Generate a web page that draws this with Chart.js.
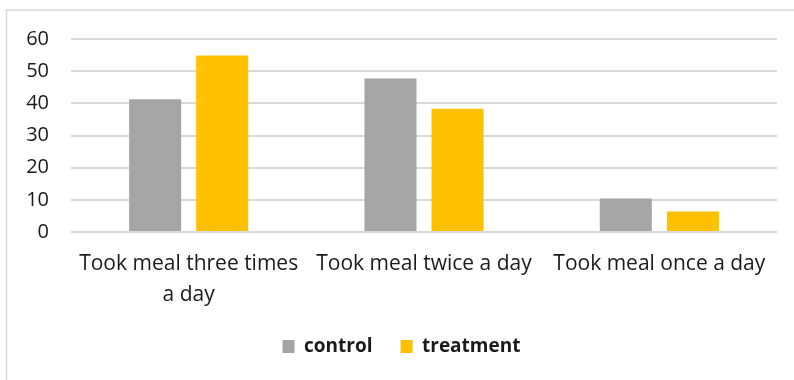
<!DOCTYPE html>
<html>
<head>
<meta charset="utf-8">
<script src="https://cdn.jsdelivr.net/npm/chart.js@4"></script>
<style>
  html, body { margin: 0; padding: 0; background: #fff; }
  #wrap { width: 794px; height: 380px; position: relative; }
</style>
</head>
<body>
<div id="wrap"><canvas id="mealChart"></canvas></div>
<script>
const categories = [['Took meal three times', 'a day'], 'Took meal twice a day', 'Took meal once a day'];
const controlValues = [41.3, 47.7, 10.4];
const treatmentValues = [54.9, 38.3, 6.4];
const yTicks = [0, 10, 20, 30, 40, 50, 60];

const FONT = "'Open Sans', 'Liberation Sans', sans-serif";

// light grey outline of the chart area, as in the office export
const frame = {
    id: 'frame',
    beforeDraw(chart) {
        const c = chart.ctx;
        c.save();
        c.strokeStyle = '#d9d9d9';
        c.lineWidth = 1.5;
        c.strokeRect(6.5, 10, 1000, 1000);
        c.restore();
    }
};

const ctx = document.getElementById('mealChart').getContext('2d');
new Chart(ctx, {
    type: 'bar',
    data: {
        labels: categories,
        datasets: [{
            label: 'control',
            data: controlValues,
            backgroundColor: '#a5a5a5',
            categoryPercentage: 0.57,
            barPercentage: 0.776
        }, {
            label: 'treatment',
            data: treatmentValues,
            backgroundColor: '#ffc000',
            categoryPercentage: 0.57,
            barPercentage: 0.776
        }]
    },
    options: {
        responsive: true,
        maintainAspectRatio: false,
        animation: false,
        layout: {
            padding: { left: 26, right: 17, top: 39, bottom: 14 }
        },
        scales: {
            x: {
                grid: { display: false, drawTicks: false },
                border: { display: false },
                ticks: {
                    color: '#1a1a1a',
                    font: { family: FONT, size: 21, lineHeight: 1.45 },
                    padding: 17,
                    maxRotation: 0,
                    autoSkip: false
                },
                afterFit(scale) { scale.height = 77; }
            },
            y: {
                min: 0,
                max: 60,
                afterBuildTicks(scale) {
                    scale.ticks = yTicks.map(v => ({ value: v }));
                },
                grid: { color: '#d9d9d9', lineWidth: 2, drawTicks: false },
                border: { display: false },
                ticks: {
                    color: '#1a1a1a',
                    font: { family: FONT, size: 20 },
                    padding: 22
                },
                afterFit(scale) { scale.width = 45; }
            }
        },
        plugins: {
            legend: {
                position: 'bottom',
                labels: {
                    color: '#1a1a1a',
                    font: { family: FONT, size: 19, weight: 'bold' },
                    boxWidth: 12,
                    boxHeight: 13,
                    padding: 28
                }
            },
            tooltip: { enabled: false }
        }
    },
    plugins: [frame]
});
</script>
</body>
</html>
